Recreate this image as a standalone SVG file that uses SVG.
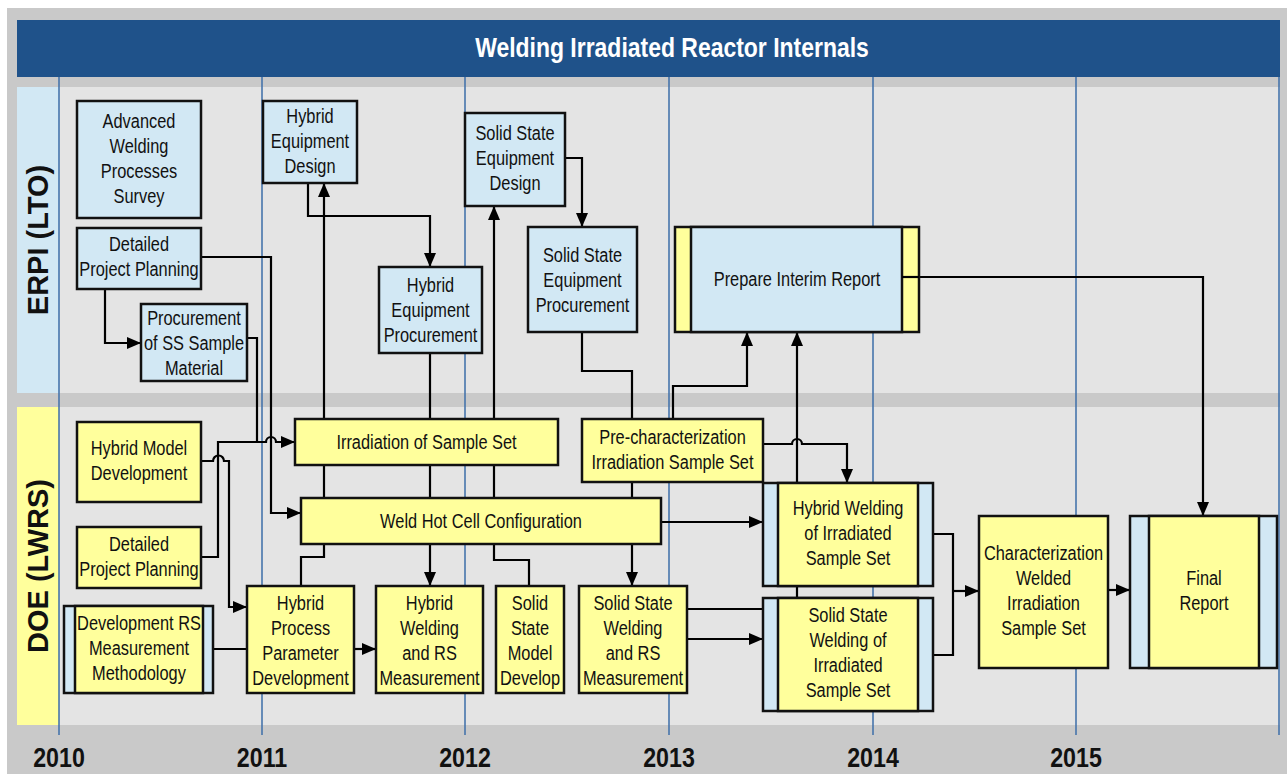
<svg xmlns="http://www.w3.org/2000/svg" width="1287" height="774" viewBox="0 0 1287 774">
<style>
.b{fill:#d2e8f4;stroke:#111;stroke-width:2.5}
.y{fill:#ffff9c;stroke:#111;stroke-width:2.5}
.t text{font-family:"Liberation Sans",Arial,sans-serif;font-size:21px;text-anchor:middle;fill:#111}
.c{fill:none;stroke:#000;stroke-width:2.2}
.yr{stroke:#3d6ea8;stroke-width:1.5}
.year{font-family:"Liberation Sans",Arial,sans-serif;font-size:28px;font-weight:bold;text-anchor:middle;fill:#111}
.lane{font-family:"Liberation Sans",Arial,sans-serif;font-size:29px;font-weight:bold;text-anchor:middle;fill:#111}
</style>
<defs>
<marker id="ah" markerUnits="userSpaceOnUse" markerWidth="14" markerHeight="12" refX="14" refY="6" orient="auto">
<path d="M0,0 L14,6 L0,12 z" fill="#000"/>
</marker>
</defs>
<g id="background">
<rect x="0" y="0" width="1287" height="774" fill="#ffffff"/>
<rect x="7" y="8" width="1280" height="766" fill="#c9c9c9"/>
<rect x="17" y="20" width="1263" height="57" fill="#1f528a"/>
<text transform="translate(672 57) scale(0.82 1)" x="0" y="0" font-family="'Liberation Sans',Arial,sans-serif" font-size="28" font-weight="bold" fill="#ffffff" text-anchor="middle">Welding Irradiated Reactor Internals</text>
<rect x="17" y="87" width="42" height="306" fill="#d2e8f4"/>
<rect x="59" y="87" width="1221" height="306" fill="#e4e4e4"/>
<rect x="17" y="407" width="42" height="318" fill="#ffff9c"/>
<rect x="59" y="407" width="1221" height="318" fill="#e4e4e4"/>
<text class="lane" transform="translate(48,240) rotate(-90)">ERPI (LTO)</text>
<text class="lane" transform="translate(48,566) rotate(-90)">DOE (LWRS)</text>
<line class="yr" x1="59" y1="77" x2="59" y2="735"/>
<line class="yr" x1="262" y1="77" x2="262" y2="735"/>
<line class="yr" x1="465" y1="77" x2="465" y2="735"/>
<line class="yr" x1="669" y1="77" x2="669" y2="735"/>
<line class="yr" x1="873" y1="77" x2="873" y2="735"/>
<line class="yr" x1="1076" y1="77" x2="1076" y2="735"/>
<line class="yr" x1="1279" y1="77" x2="1279" y2="735"/>
<text class="year" transform="translate(59 767) scale(0.83 1)">2010</text>
<text class="year" transform="translate(262 767) scale(0.83 1)">2011</text>
<text class="year" transform="translate(465 767) scale(0.83 1)">2012</text>
<text class="year" transform="translate(669 767) scale(0.83 1)">2013</text>
<text class="year" transform="translate(873 767) scale(0.83 1)">2014</text>
<text class="year" transform="translate(1076 767) scale(0.83 1)">2015</text>
</g>
<g id="connectors">
<path class="c" d="M308,183 V216 H430 V267" marker-end="url(#ah)"/>
<path class="c" d="M301,586 V557 H324 V183" marker-end="url(#ah)"/>
<path class="c" d="M430,353 V586" marker-end="url(#ah)"/>
<path class="c" d="M529,586 V560 H494 V206" marker-end="url(#ah)"/>
<path class="c" d="M565,158 H582 V227" marker-end="url(#ah)"/>
<path class="c" d="M582,332 V371 H632 V586" marker-end="url(#ah)"/>
<path class="c" d="M105,289 V343 H141" marker-end="url(#ah)"/>
<path class="c" d="M201,257 H271 V513 H301" marker-end="url(#ah)"/>
<path class="c" d="M247,338 H257 V442 H266 a5,5 0 0 1 10,0 H295" marker-end="url(#ah)"/>
<path class="c" d="M201,557 H218 V442 H257"/>
<path class="c" d="M201,461 H213 a5.5,5.5 0 0 1 11,0 H229 V607 H247" marker-end="url(#ah)"/>
<path class="c" d="M213,649 H247"/>
<path class="c" d="M354,649 H376" marker-end="url(#ah)"/>
<path class="c" d="M661,522 H763" marker-end="url(#ah)"/>
<path class="c" d="M673,419 V386 H747 V332" marker-end="url(#ah)"/>
<path class="c" d="M687,609 H797 V332" marker-end="url(#ah)"/>
<path class="c" d="M763,444 H792 a5,5 0 0 1 10,0 H847 V483" marker-end="url(#ah)"/>
<path class="c" d="M687,639 H763" marker-end="url(#ah)"/>
<path class="c" d="M933,534 H953 V655 H933"/>
<path class="c" d="M953,591 H979" marker-end="url(#ah)"/>
<path class="c" d="M1108,590 H1130" marker-end="url(#ah)"/>
<path class="c" d="M902,277 H1203 V516" marker-end="url(#ah)"/>
</g>
<g id="n-adv">
<rect class="b" x="77" y="101" width="124" height="117"/>
<g class="t" transform="translate(139 0) scale(0.78 1)">
<text x="0" y="128">Advanced</text>
<text x="0" y="153">Welding</text>
<text x="0" y="178">Processes</text>
<text x="0" y="203">Survey</text>
</g>
</g>
<g id="n-hed">
<rect class="b" x="263" y="101" width="94" height="82"/>
<g class="t" transform="translate(310 0) scale(0.78 1)">
<text x="0" y="123">Hybrid</text>
<text x="0" y="148">Equipment</text>
<text x="0" y="173">Design</text>
</g>
</g>
<g id="n-dppe">
<rect class="b" x="77" y="228" width="124" height="61"/>
<g class="t" transform="translate(139 0) scale(0.78 1)">
<text x="0" y="251">Detailed</text>
<text x="0" y="276">Project Planning</text>
</g>
</g>
<g id="n-proc">
<rect class="b" x="141" y="304" width="106" height="77"/>
<g class="t" transform="translate(194 0) scale(0.78 1)">
<text x="0" y="325">Procurement</text>
<text x="0" y="350">of SS Sample</text>
<text x="0" y="375">Material</text>
</g>
</g>
<g id="n-hep">
<rect class="b" x="379" y="267" width="103" height="86"/>
<g class="t" transform="translate(430.5 0) scale(0.78 1)">
<text x="0" y="292">Hybrid</text>
<text x="0" y="317">Equipment</text>
<text x="0" y="342">Procurement</text>
</g>
</g>
<g id="n-ssed">
<rect class="b" x="465" y="113" width="100" height="93"/>
<g class="t" transform="translate(515 0) scale(0.78 1)">
<text x="0" y="140">Solid State</text>
<text x="0" y="165">Equipment</text>
<text x="0" y="190">Design</text>
</g>
</g>
<g id="n-ssep">
<rect class="b" x="528" y="227" width="109" height="105"/>
<g class="t" transform="translate(582.5 0) scale(0.78 1)">
<text x="0" y="262">Solid State</text>
<text x="0" y="287">Equipment</text>
<text x="0" y="312">Procurement</text>
</g>
</g>
<g id="n-pir">
<rect class="y" x="675" y="227" width="244" height="105"/>
<rect class="b" x="691" y="227" width="211" height="105"/>
<line x1="902" y1="277" x2="919" y2="277" stroke="#000" stroke-width="2.2"/>
<g class="t" transform="translate(797 0) scale(0.78 1)">
<text x="0" y="286">Prepare Interim Report</text>
</g>
</g>
<g id="n-hmd">
<rect class="y" x="77" y="422" width="124" height="80"/>
<g class="t" transform="translate(139 0) scale(0.78 1)">
<text x="0" y="455">Hybrid Model</text>
<text x="0" y="480">Development</text>
</g>
</g>
<g id="n-dppd">
<rect class="y" x="77" y="527" width="124" height="61"/>
<g class="t" transform="translate(139 0) scale(0.78 1)">
<text x="0" y="551">Detailed</text>
<text x="0" y="576">Project Planning</text>
</g>
</g>
<g id="n-devrs">
<rect class="b" x="64" y="606" width="149" height="87"/>
<rect class="y" x="75" y="606" width="128" height="87"/>
<g class="t" transform="translate(139 0) scale(0.78 1)">
<text x="0" y="630">Development RS</text>
<text x="0" y="655">Measurement</text>
<text x="0" y="680">Methodology</text>
</g>
</g>
<g id="n-irr">
<rect class="y" x="295" y="419" width="263" height="46"/>
<g class="t" transform="translate(426.5 0) scale(0.78 1)">
<text x="0" y="449">Irradiation of Sample Set</text>
</g>
</g>
<g id="n-whc">
<rect class="y" x="301" y="498" width="360" height="46"/>
<g class="t" transform="translate(481 0) scale(0.78 1)">
<text x="0" y="528">Weld Hot Cell Configuration</text>
</g>
</g>
<g id="n-prechar">
<rect class="y" x="582" y="419" width="181" height="63"/>
<g class="t" transform="translate(672.5 0) scale(0.78 1)">
<text x="0" y="444">Pre-characterization</text>
<text x="0" y="469">Irradiation Sample Set</text>
</g>
</g>
<g id="n-hppd">
<rect class="y" x="247" y="586" width="107" height="107"/>
<g class="t" transform="translate(300.5 0) scale(0.78 1)">
<text x="0" y="610">Hybrid</text>
<text x="0" y="635">Process</text>
<text x="0" y="660">Parameter</text>
<text x="0" y="685">Development</text>
</g>
</g>
<g id="n-hwrs">
<rect class="y" x="376" y="586" width="107" height="107"/>
<g class="t" transform="translate(429.5 0) scale(0.78 1)">
<text x="0" y="610">Hybrid</text>
<text x="0" y="635">Welding</text>
<text x="0" y="660">and RS</text>
<text x="0" y="685">Measurement</text>
</g>
</g>
<g id="n-ssmd">
<rect class="y" x="496" y="586" width="68" height="107"/>
<g class="t" transform="translate(530 0) scale(0.78 1)">
<text x="0" y="610">Solid</text>
<text x="0" y="635">State</text>
<text x="0" y="660">Model</text>
<text x="0" y="685">Develop</text>
</g>
</g>
<g id="n-sswrs">
<rect class="y" x="579" y="586" width="108" height="107"/>
<g class="t" transform="translate(633 0) scale(0.78 1)">
<text x="0" y="610">Solid State</text>
<text x="0" y="635">Welding</text>
<text x="0" y="660">and RS</text>
<text x="0" y="685">Measurement</text>
</g>
</g>
<g id="n-hwis">
<rect class="b" x="763" y="483" width="170" height="103"/>
<rect class="y" x="778" y="483" width="140" height="103"/>
<g class="t" transform="translate(848 0) scale(0.78 1)">
<text x="0" y="515">Hybrid Welding</text>
<text x="0" y="540">of Irradiated</text>
<text x="0" y="565">Sample Set</text>
</g>
</g>
<g id="n-sswis">
<rect class="b" x="763" y="598" width="170" height="113"/>
<rect class="y" x="778" y="598" width="140" height="113"/>
<g class="t" transform="translate(848 0) scale(0.78 1)">
<text x="0" y="622">Solid State</text>
<text x="0" y="647">Welding of</text>
<text x="0" y="672">Irradiated</text>
<text x="0" y="697">Sample Set</text>
</g>
</g>
<g id="n-char">
<rect class="y" x="979" y="516" width="129" height="152"/>
<g class="t" transform="translate(1043.5 0) scale(0.78 1)">
<text x="0" y="560">Characterization</text>
<text x="0" y="585">Welded</text>
<text x="0" y="610">Irradiation</text>
<text x="0" y="635">Sample Set</text>
</g>
</g>
<g id="n-final">
<rect class="b" x="1130" y="516" width="147" height="152"/>
<rect class="y" x="1149" y="516" width="110" height="152"/>
<g class="t" transform="translate(1204 0) scale(0.78 1)">
<text x="0" y="585">Final</text>
<text x="0" y="610">Report</text>
</g>
</g>
</svg>
